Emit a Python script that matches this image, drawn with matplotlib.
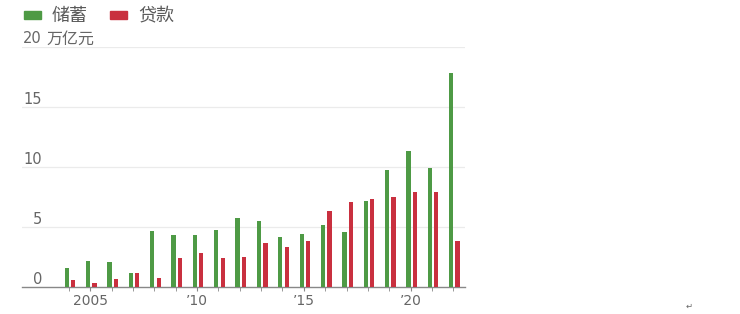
import matplotlib
matplotlib.use('Agg')
import matplotlib.pyplot as plt
from matplotlib.patches import Rectangle

plt.rcParams['font.family'] = ['Noto Sans CJK SC', 'DejaVu Sans']

# 数据 (万亿元)
years = list(range(2004, 2023))
savings = [1.6, 2.2, 2.05, 1.15, 4.65, 4.3, 4.35, 4.7, 5.7, 5.5,
           4.15, 4.4, 5.15, 4.6, 7.15, 9.7, 11.3, 9.9, 17.8]
loans = [0.6, 0.35, 0.65, 1.15, 0.75, 2.45, 2.85, 2.45, 2.5, 3.7,
         3.3, 3.85, 6.3, 7.1, 7.35, 7.45, 7.9, 7.9, 3.8]
tick_years = [2005, 2010, 2015, 2020]
tick_labels = ['2005', '’10', '’15', '’20']
y_ticks = [0, 5, 10, 15, 20]

green = '#4e9a45'
red = '#c9303f'
gray = '#666666'

fig = plt.figure(figsize=(7.4, 3.14), dpi=100)
ax = fig.add_axes([22 / 740, 1 - 287 / 314, (465 - 22) / 740, (287 - 46.5) / 314])

w = 0.2
ax.bar([y - 0.1 for y in years], savings, width=w, color=green, zorder=3)
ax.bar([y + 0.2 for y in years], loans, width=w, color=red, zorder=3)

ax.set_xlim(2001.8, 2022.55)
ax.set_ylim(0, 20)

# 网格线和刻度标签
for v in y_ticks[1:]:
    ax.axhline(v, color='#ebebeb', lw=0.9, zorder=1)
for v in y_ticks:
    ax.text(42 / 740, 1 - (287 - v * 12.03 - 3) / 314, str(v), transform=fig.transFigure,
            ha='right', va='baseline', fontsize=10.5, color=gray, family='DejaVu Sans')
fig.text(46 / 740, 1 - (287 - 20 * 12.03 - 3) / 314, '万亿元', ha='left', va='baseline',
         fontsize=11.5, color=gray)

for s in ['top', 'right', 'left']:
    ax.spines[s].set_visible(False)
ax.spines['bottom'].set_color('#888888')
ax.spines['bottom'].set_linewidth(1.0)
ax.set_yticks([])
ax.set_xticks(years, minor=True)
ax.set_xticks(tick_years)
ax.set_xticklabels(tick_labels, fontsize=10, color=gray, family='DejaVu Sans')
ax.tick_params(axis='x', which='both', length=3, color='#888888', pad=2)

# 图例
for x0, c, t in [(24, green, '储蓄'), (110, red, '贷款')]:
    fig.patches.append(Rectangle((x0 / 740, 1 - 19 / 314), 17 / 740, 8 / 314,
                                 transform=fig.transFigure, color=c))
    fig.text((x0 + 28) / 740, 1 - 16 / 314, t, ha='left', va='center',
             fontsize=13, color='#5a5a5a')

fig.text(686 / 740, 1 - 306 / 314, '↵', ha='left', va='center', fontsize=6,
         color=gray, family='DejaVu Sans')

fig.savefig('out.png', dpi=100)
